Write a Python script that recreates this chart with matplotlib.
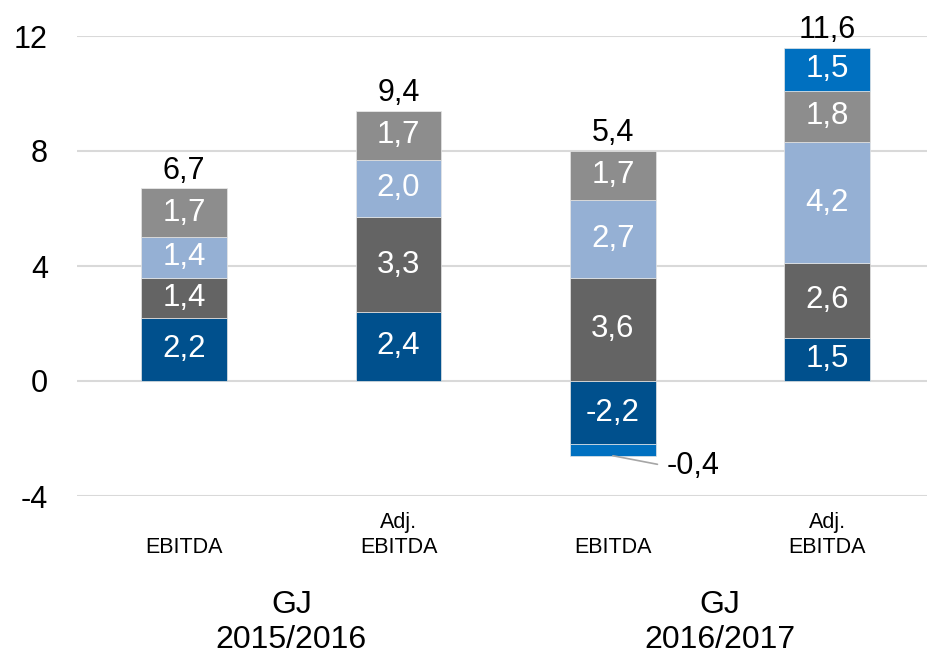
import numpy as np
import matplotlib
matplotlib.use("Agg")
import matplotlib.pyplot as plt
import matplotlib.transforms as mtransforms

plt.rcParams["font.family"] = ["Liberation Sans", "DejaVu Sans"]

# chart data
categories = ["EBITDA", "Adj.\nEBITDA", "EBITDA", "Adj.\nEBITDA"]
groups = ["GJ\n2015/2016", "GJ\n2016/2017"]
dark_blue = [2.2, 2.4, -2.2, 1.5]
dark_gray = [1.4, 3.3, 3.6, 2.6]
light_blue = [1.4, 2.0, 2.7, 4.2]
gray = [1.7, 1.7, 1.7, 1.8]
bright_blue = [0.0, 0.0, -0.4, 1.5]
totals = [6.7, 9.4, 5.4, 11.6]

series = [dark_blue, dark_gray, light_blue, gray, bright_blue]
colors = ["#00508d", "#646464", "#95b0d4", "#8d8d8d", "#0070c0"]

def fmt(v):
    return ("%.1f" % v).replace(".", ",")

fig = plt.figure(figsize=(9.28, 6.58), dpi=100)
ax = fig.add_axes([77 / 928, 1 - 496 / 658, 1 - 77 / 928, 460 / 658])

x = np.arange(len(categories))
pos_bottom = np.zeros(len(x))
neg_bottom = np.zeros(len(x))
small_neg = None

for vals, col in zip(series, colors):
    vals = np.array(vals)
    bottom = np.where(vals >= 0, pos_bottom, neg_bottom)
    ax.bar(x, vals, 0.4, bottom=bottom, color=col, edgecolor="#e6e6e6",
           linewidth=0.5, zorder=2)
    for i, v in enumerate(vals):
        if v == 0:
            continue
        if abs(v) < 1:
            small_neg = (i, bottom[i] + v, v)
            continue
        ax.text(x[i], bottom[i] + v / 2, fmt(v), ha="center", va="center",
                color="white", fontsize=22.5, zorder=3)
    pos_bottom += np.where(vals >= 0, vals, 0)
    neg_bottom += np.where(vals < 0, vals, 0)

# totals above bars
for i, t in enumerate(totals):
    ax.annotate(fmt(t), (x[i], pos_bottom[i]), xytext=(0, 2),
                textcoords="offset points", ha="center", va="bottom",
                fontsize=22, color="black")

# small negative segment with leader line
if small_neg is not None:
    i, yb, v = small_neg
    ax.annotate(fmt(v), (x[i], yb), xytext=(39, -7.5),
                textcoords="offset points", ha="left", va="center",
                fontsize=22, color="black",
                arrowprops=dict(arrowstyle="-", color="#a6a6a6", lw=1.2,
                                relpos=(0, 0.5), shrinkA=5, shrinkB=0))

ax.set_ylim(-4, 12)
ax.set_xlim(-0.5, 3.47)
ax.set_yticks([-4, 0, 4, 8, 12])
ax.set_yticklabels(["-4", "0", "4", "8", "12"], fontsize=22)
ax.set_xticks([])
ax.tick_params(axis="y", length=0, pad=21)
ax.yaxis.grid(True, color="#d9d9d9", linewidth=1.5, zorder=0)
ax.set_axisbelow(True)
for s in ax.spines.values():
    s.set_visible(False)

# category and group labels below axis
trans = mtransforms.blended_transform_factory(ax.transData, fig.transFigure)
for i, c in enumerate(categories):
    ax.text(x[i], 1 - 558 / 658, c, transform=trans, ha="center", va="bottom",
            fontsize=15.5, linespacing=1.25, clip_on=False)
for j, g in enumerate(groups):
    ax.text(2 * j + 0.5, 1 - 590 / 658, g, transform=trans, ha="center",
            va="top", fontsize=23, linespacing=1.23, clip_on=False)

fig.savefig("out.png", dpi=100)
